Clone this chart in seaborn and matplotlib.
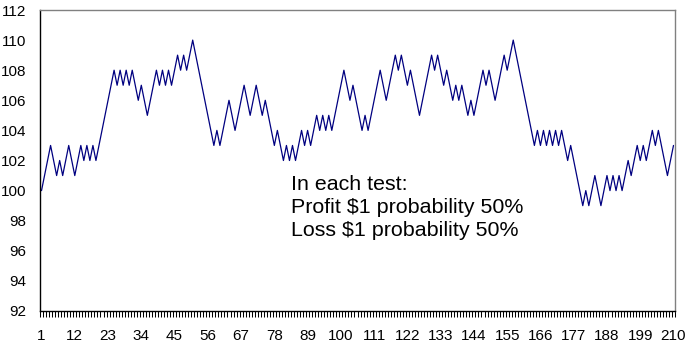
import numpy as np
import pandas as pd
import matplotlib
matplotlib.use("Agg")
import matplotlib.pyplot as plt
from matplotlib.ticker import FixedLocator
import seaborn as sns

# Account balance after each test
balance = [
    100, 101, 102, 103, 102, 101, 102, 101, 102, 103,
    102, 101, 102, 103, 102, 103, 102, 103, 102, 103,
    104, 105, 106, 107, 108, 107, 108, 107, 108, 107,
    108, 107, 106, 107, 106, 105, 106, 107, 108, 107,
    108, 107, 108, 107, 108, 109, 108, 109, 108, 109,
    110, 109, 108, 107, 106, 105, 104, 103, 104, 103,
    104, 105, 106, 105, 104, 105, 106, 107, 106, 105,
    106, 107, 106, 105, 106, 105, 104, 103, 104, 103,
    102, 103, 102, 103, 102, 103, 104, 103, 104, 103,
    104, 105, 104, 105, 104, 105, 104, 105, 106, 107,
    108, 107, 106, 107, 106, 105, 104, 105, 104, 105,
    106, 107, 108, 107, 106, 107, 108, 109, 108, 109,
    108, 107, 108, 107, 106, 105, 106, 107, 108, 109,
    108, 109, 108, 107, 108, 107, 106, 107, 106, 107,
    106, 105, 106, 105, 106, 107, 108, 107, 108, 107,
    106, 107, 108, 109, 108, 109, 110, 109, 108, 107,
    106, 105, 104, 103, 104, 103, 104, 103, 104, 103,
    104, 103, 104, 103, 102, 103, 102, 101, 100, 99,
    100, 99, 100, 101, 100, 99, 100, 101, 100, 101,
    100, 101, 100, 101, 102, 101, 102, 103, 102, 103,
    102, 103, 104, 103, 104, 103, 102, 101, 102, 103,
]
test_no = list(range(1, len(balance) + 1))
x_labels = [1, 12, 23, 34, 45, 56, 67, 78, 89, 100, 111, 122, 133, 144,
            155, 166, 177, 188, 199, 210]
y_ticks = [92, 94, 96, 98, 100, 102, 104, 106, 108, 110, 112]
note_lines = ["In each test:", "Profit $1 probability 50%", "Loss $1 probability 50%"]

df = pd.DataFrame({"test": test_no, "balance": balance})

sns.set_theme(style="white")
plt.rcParams["font.family"] = ["Liberation Sans", "DejaVu Sans"]

fig = plt.figure(figsize=(6.88, 3.43), dpi=100)
ax = fig.add_axes([40 / 688, 1 - 311 / 343, 635 / 688, 301 / 343])

sns.lineplot(data=df, x="test", y="balance", ax=ax, color="#000080",
             linewidth=0.9, estimator=None)

ax.set_xlim(0.5, len(balance) + 0.5)
ax.set_ylim(92, 112)
ax.set_yticks(y_ticks)
ax.set_xticks(x_labels)
ax.set_xticklabels([str(v) for v in x_labels])
ax.xaxis.set_minor_locator(FixedLocator(np.arange(0.5, len(balance) + 1, 1.0)))

ax.tick_params(axis="y", length=0, pad=10, labelsize=11, colors="black")
ax.tick_params(axis="x", which="major", length=0, pad=13, labelsize=11, colors="black")
ax.tick_params(axis="x", which="minor", bottom=True, length=4, width=0.75,
               direction="out", color="black")

ax.set_xlabel("")
ax.set_ylabel("")
ax.grid(False)

for side in ("left", "bottom"):
    ax.spines[side].set_color("black")
    ax.spines[side].set_linewidth(1.0)
for side in ("top", "right"):
    ax.spines[side].set_color("#808080")
    ax.spines[side].set_linewidth(1.0)

ax.text(291 / 688, 1 - 175 / 343, "\n".join(note_lines), transform=fig.transFigure,
        fontsize=15.4, va="top", ha="left", linespacing=1.27, color="black")

fig.savefig("out.png", dpi=100, facecolor="white")
